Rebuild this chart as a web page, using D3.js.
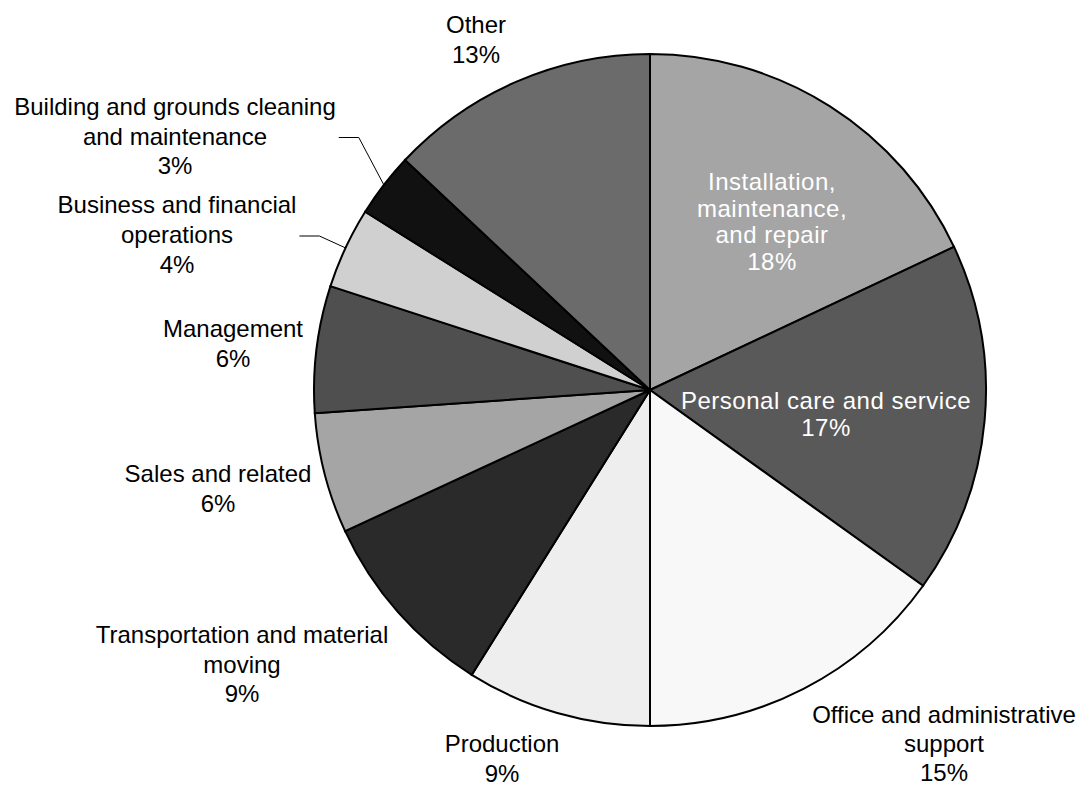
<!DOCTYPE html>
<meta charset="utf-8">
<style>

body {
  margin: 0;
  background: #fff;
}

.slice {
  stroke: #000;
  stroke-width: 2px;
}

.label text {
  font: 24px "Liberation Sans", Arial, sans-serif;
}

.leader {
  fill: none;
  stroke: #000;
  stroke-width: 1px;
}

</style>
<body>
<svg width="1079" height="786"></svg>

<script src="https://d3js.org/d3.v7.min.js"></script>
<script>

// occupations, clockwise from 12 o'clock
var categories = [
  "Installation,\nmaintenance,\nand repair",
  "Personal care and service",
  "Office and administrative\nsupport",
  "Production",
  "Transportation and material\nmoving",
  "Sales and related",
  "Management",
  "Business and financial\noperations",
  "Building and grounds cleaning\nand maintenance",
  "Other"
];

// share of total, percent
var shares = [18.0, 16.9, 15.1, 8.9, 9.2, 5.8, 6.1, 3.9, 3.1, 13.0];

var fills = ["#a5a5a5", "#595959", "#f8f8f8", "#eeeeee", "#2a2a2a",
             "#a5a5a5", "#4f4f4f", "#d0d0d0", "#111111", "#6b6b6b"];

// label layout: centre x, first baseline y, line spacing, inside pie?
var labelPos = [
  [772, 190, 26.5, true],
  [826, 409, 27, true],
  [944, 723, 29, false],
  [502, 752, 29.5, false],
  [242, 643, 29.5, false],
  [218, 482, 29.5, false],
  [233, 337, 29.5, false],
  [177, 213, 30, false],
  [175, 115, 29.5, false],
  [476, 33, 30, false]
];

// slices that get a leader line
var withLeader = [7, 8];

var svg = d3.select("svg"),
    cx = 650,
    cy = 390,
    radius = 336;

var formatPct = d3.format(".0%");

var data = categories.map(function(c, i) {
  return {name: c, value: shares[i], fill: fills[i], i: i};
});

var pie = d3.pie()
    .sort(null)
    .value(function(d) { return d.value; });

var arc = d3.arc()
    .innerRadius(0)
    .outerRadius(radius);

var arcs = pie(data);

var g = svg.append("g")
    .attr("transform", "translate(" + cx + "," + cy + ")");

g.selectAll("path.slice")
    .data(arcs)
  .enter().append("path")
    .attr("class", "slice")
    .attr("fill", function(d) { return d.data.fill; })
    .attr("d", arc);

var labels = svg.append("g")
    .attr("class", "labels");

arcs.forEach(function(a) {
  var i = a.data.i,
      p = labelPos[i],
      lines = a.data.name.split("\n").concat(formatPct(a.data.value / 100));

  var lg = labels.append("g").attr("class", "label");

  var t = lg.append("text")
      .attr("text-anchor", "middle")
      .attr("fill", p[3] ? "#fff" : "#000")
      .attr("letter-spacing", p[3] ? "0.5px" : null);

  lines.forEach(function(s, k) {
    t.append("tspan")
        .attr("x", p[0])
        .attr("y", p[1] + k * p[2])
        .text(s);
  });

  if (withLeader.indexOf(i) >= 0) {
    var box = t.node().getBBox(),
        mid = (a.startAngle + a.endAngle) / 2,
        ex = cx + radius * Math.sin(mid),
        ey = cy - radius * Math.cos(mid),
        ly = p[1] + p[2] - 7,
        lx = box.x + box.width + 3;

    svg.append("path")
        .attr("class", "leader")
        .attr("d", "M" + lx + "," + ly + "H" + (lx + 20) + "L" + ex + "," + ey);
  }
});

</script>
</body>
